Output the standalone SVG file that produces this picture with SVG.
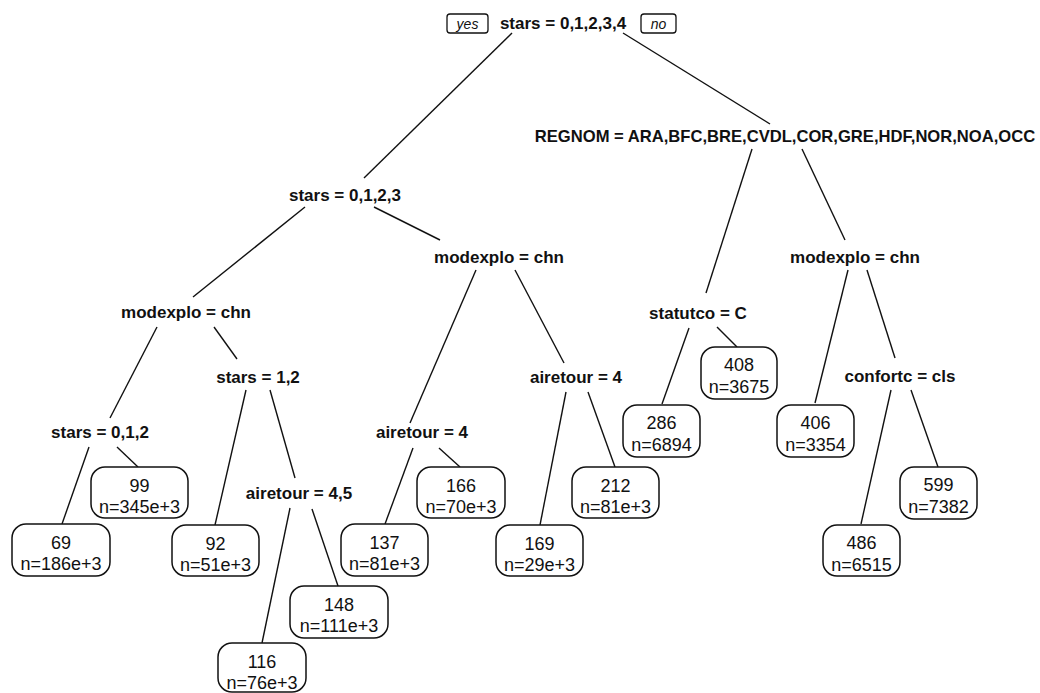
<svg xmlns="http://www.w3.org/2000/svg" width="1040" height="693" viewBox="0 0 1040 693">
<style>
.bg{fill:#fff}
.lbl{font-family:"Liberation Sans",Arial,sans-serif;font-weight:bold;font-size:17px;fill:#111;text-anchor:middle}
.lbl-wide{font-size:16.6px}
.val{font-family:"Liberation Sans",Arial,sans-serif;font-size:18px;fill:#111;text-anchor:middle}
.yn{font-family:"Liberation Sans",Arial,sans-serif;font-style:italic;font-size:14px;fill:#111;text-anchor:middle}
.box{fill:#fff;stroke:#111;stroke-width:1.5}
.ynbox{fill:#fff;stroke:#111;stroke-width:1.3}
.edge line{stroke:#111;stroke-width:1.4}
</style>
<rect class="bg" x="0" y="0" width="1040" height="693"/>
<g id="connectors" class="edge">
<line x1="512" y1="33" x2="364" y2="178"/>
<line x1="623" y1="33" x2="770" y2="124"/>
<line x1="752" y1="149" x2="706" y2="293"/>
<line x1="802" y1="149" x2="845" y2="240"/>
<line x1="305" y1="207" x2="193" y2="297"/>
<line x1="374" y1="207" x2="440" y2="240"/>
<line x1="476" y1="270" x2="410" y2="423"/>
<line x1="515" y1="270" x2="564" y2="363"/>
<line x1="848" y1="270" x2="815" y2="403"/>
<line x1="867" y1="270" x2="895" y2="358"/>
<line x1="157" y1="327" x2="110" y2="418"/>
<line x1="214" y1="327" x2="237" y2="359"/>
<line x1="689" y1="328" x2="662" y2="404"/>
<line x1="717" y1="327" x2="737" y2="347"/>
<line x1="246" y1="390" x2="215" y2="525"/>
<line x1="270" y1="390" x2="295" y2="478"/>
<line x1="566" y1="392" x2="540" y2="525"/>
<line x1="588" y1="392" x2="615" y2="467"/>
<line x1="891" y1="390" x2="861" y2="524"/>
<line x1="911" y1="390" x2="938" y2="467"/>
<line x1="89" y1="447" x2="62" y2="524"/>
<line x1="117" y1="447" x2="138" y2="467"/>
<line x1="413" y1="448" x2="385" y2="524"/>
<line x1="439" y1="448" x2="460" y2="467"/>
<line x1="290" y1="508" x2="262" y2="643"/>
<line x1="312" y1="509" x2="338" y2="586"/>
</g>
<g id="yes"><rect class="ynbox" x="447" y="14" width="41" height="19" rx="3"/><text class="yn" x="467.5" y="29">yes</text></g>
<g id="no"><rect class="ynbox" x="641" y="14" width="35" height="19" rx="3"/><text class="yn" x="658.5" y="29">no</text></g>
<g id="n1"><text class="lbl" x="563" y="29">stars = 0,1,2,3,4</text></g>
<g id="n2"><text class="lbl" x="345" y="201">stars = 0,1,2,3</text></g>
<g id="n3"><text class="lbl lbl-wide" x="785" y="142">REGNOM = ARA,BFC,BRE,CVDL,COR,GRE,HDF,NOR,NOA,OCC</text></g>
<g id="n4"><text class="lbl" x="186" y="318">modexplo = chn</text></g>
<g id="n5"><text class="lbl" x="499" y="263">modexplo = chn</text></g>
<g id="n6"><text class="lbl" x="698" y="319">statutco = C</text></g>
<g id="n7"><text class="lbl" x="855" y="263">modexplo = chn</text></g>
<g id="n8"><text class="lbl" x="100" y="438">stars = 0,1,2</text></g>
<g id="n9"><text class="lbl" x="258" y="383">stars = 1,2</text></g>
<g id="n10"><text class="lbl" x="422" y="438">airetour = 4</text></g>
<g id="n11"><text class="lbl" x="576" y="383">airetour = 4</text></g>
<g id="n12"><text class="lbl" x="299" y="499">airetour = 4,5</text></g>
<g id="n13"><text class="lbl" x="900" y="382">confortc = cls</text></g>
<g id="leaf69"><rect class="box" x="12" y="524" width="98" height="52" rx="14"/><text class="val" x="61" y="549">69</text><text class="val" x="61" y="570">n=186e+3</text></g>
<g id="leaf99"><rect class="box" x="91" y="467" width="97" height="51" rx="14"/><text class="val" x="139.5" y="492">99</text><text class="val" x="139.5" y="513">n=345e+3</text></g>
<g id="leaf92"><rect class="box" x="172" y="525" width="87" height="51" rx="14"/><text class="val" x="215.5" y="550">92</text><text class="val" x="215.5" y="571">n=51e+3</text></g>
<g id="leaf148"><rect class="box" x="290" y="586" width="98" height="52" rx="14"/><text class="val" x="339" y="611">148</text><text class="val" x="339" y="632">n=111e+3</text></g>
<g id="leaf116"><rect class="box" x="218" y="643" width="88" height="49" rx="14"/><text class="val" x="262" y="668">116</text><text class="val" x="262" y="689">n=76e+3</text></g>
<g id="leaf137"><rect class="box" x="341" y="524" width="87" height="52" rx="14"/><text class="val" x="384.5" y="549">137</text><text class="val" x="384.5" y="570">n=81e+3</text></g>
<g id="leaf166"><rect class="box" x="417" y="467" width="88" height="51" rx="14"/><text class="val" x="461" y="492">166</text><text class="val" x="461" y="513">n=70e+3</text></g>
<g id="leaf169"><rect class="box" x="496" y="525" width="87" height="51" rx="14"/><text class="val" x="539.5" y="550">169</text><text class="val" x="539.5" y="571">n=29e+3</text></g>
<g id="leaf212"><rect class="box" x="572" y="467" width="87" height="51" rx="14"/><text class="val" x="615.5" y="492">212</text><text class="val" x="615.5" y="513">n=81e+3</text></g>
<g id="leaf286"><rect class="box" x="623" y="405" width="77" height="52" rx="14"/><text class="val" x="661.5" y="429">286</text><text class="val" x="661.5" y="451">n=6894</text></g>
<g id="leaf408"><rect class="box" x="701" y="347" width="76" height="52" rx="14"/><text class="val" x="739" y="371">408</text><text class="val" x="739" y="393">n=3675</text></g>
<g id="leaf406"><rect class="box" x="777" y="405" width="77" height="52" rx="14"/><text class="val" x="815.5" y="429">406</text><text class="val" x="815.5" y="451">n=3354</text></g>
<g id="leaf486"><rect class="box" x="823" y="525" width="77" height="51" rx="14"/><text class="val" x="861.5" y="549">486</text><text class="val" x="861.5" y="571">n=6515</text></g>
<g id="leaf599"><rect class="box" x="900" y="467" width="77" height="52" rx="14"/><text class="val" x="938.5" y="491">599</text><text class="val" x="938.5" y="513">n=7382</text></g>
</svg>
